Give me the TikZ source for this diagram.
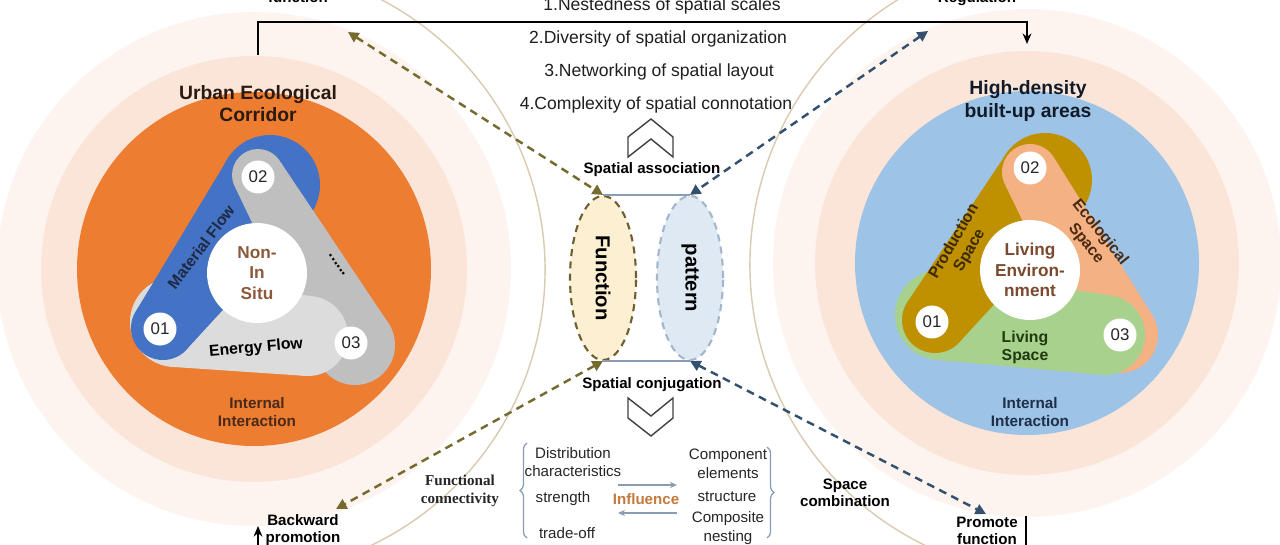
\documentclass[tikz,border=0pt]{standalone}
\usepackage{fontspec}
\setmainfont{Liberation Sans}
\newfontfamily\tnrfont{Liberation Serif}
\usetikzlibrary{calc,arrows.meta,decorations.pathreplacing,shapes.geometric}
\definecolor{haloA}{HTML}{FEF4EF}
\definecolor{haloB}{HTML}{FBE5D9}
\definecolor{orangeC}{HTML}{ED7D31}
\definecolor{blueC}{HTML}{4472C4}
\definecolor{greyC}{HTML}{BFBFBF}
\definecolor{lgreyC}{HTML}{DCDCDC}
\definecolor{skyC}{HTML}{9DC3E6}
\definecolor{goldC}{HTML}{BF9000}
\definecolor{salmonC}{HTML}{F4B183}
\definecolor{greenC}{HTML}{A9D18E}
\definecolor{arcC}{HTML}{DBCAB0}
\definecolor{brownD}{HTML}{766A2E}
\definecolor{blueD}{HTML}{34506E}
\definecolor{fnFill}{HTML}{FCEFD2}
\definecolor{fnLine}{HTML}{6E5E30}
\definecolor{ptFill}{HTML}{DFE9F4}
\definecolor{ptLine}{HTML}{A3B6CC}
\definecolor{thinC}{HTML}{8A9CB2}
\definecolor{inflC}{HTML}{C47A3C}
\definecolor{ttlL}{HTML}{2A1A10}
\definecolor{ttlR}{HTML}{111A28}
\definecolor{iiL}{HTML}{4A2A1A}
\definecolor{iiR}{HTML}{1F2F4A}
\definecolor{ctrL}{HTML}{8B5A3C}
\definecolor{ctrR}{HTML}{7B4A2E}
\definecolor{navyT}{HTML}{1F2A44}
\definecolor{prodT}{HTML}{3D2A00}
\definecolor{ecoT}{HTML}{4A2A10}
\definecolor{livT}{HTML}{1E3A0E}

\newcommand{\capsulebar}[5]{%
  \fill[#1] (#2) circle[radius=#3];
  \fill[#1] (#4) circle[radius=#5];
  \fill[#1] ($(#2)!#3*0.02cm!90:(#4)$) -- ($(#4)!#5*0.02cm!-90:(#2)$) -- ($(#4)!#5*0.02cm!90:(#2)$) -- ($(#2)!#3*0.02cm!-90:(#4)$) -- cycle;}

\tikzset{
  every node/.style={inner sep=0pt, align=center},
  ttl/.style={font=\fontsize{11}{12.6}\selectfont\bfseries},
  ii/.style={font=\fontsize{8.7}{9.8}\selectfont\bfseries},
  b86/.style={font=\fontsize{8.6}{9.8}\selectfont\bfseries},
  reg/.style={font=\fontsize{8.6}{10.5}\selectfont, text=black!85},
  lst/.style={font=\fontsize{10}{12}\selectfont, text=black!88, anchor=base},
  numc/.style={circle, fill=white, minimum size=0.66cm, font=\fontsize{9.6}{10}\selectfont, text=black!85},
  ctrc/.style={circle, fill=white, minimum size=2cm, font=\fontsize{9.8}{11.6}\selectfont\bfseries},
  rotl/.style={font=\fontsize{9}{10.3}\selectfont\bfseries},
  dsh/.style={dash pattern=on 4.5pt off 3.2pt, line width=1.4pt, {Triangle[length=6pt,width=6pt]}-{Triangle[length=6pt,width=6pt]}},
  bigb/.style={font=\fontsize{11.5}{13}\selectfont\bfseries},
  chev/.style={draw=black!75, line width=0.8pt, fill=white, line join=miter},
  thin/.style={draw=thinC, line width=0.7pt},
  bk/.style={line width=1.1pt, black}
}

\begin{document}
\begin{tikzpicture}[x=0.02cm,y=-0.02cm]
\useasboundingbox (0,0) rectangle (1280,544);
\fill[white] (0,0) rectangle (1280,544);

% halos
\fill[haloA] (254,269) circle[radius=257];
\fill[haloB] (254,269) circle[radius=213];
\fill[haloA] (1027,263) circle[radius=254];
\fill[haloB] (1027,263) circle[radius=212];

% thin arcs
\coordinate (arcL) at (240,270);
\coordinate (arcR) at (1062,265);
\draw[arcC, line width=0.8pt] ($(arcL)+(-72:305)$) arc[start angle=-72, end angle=72, radius=305];
\draw[arcC, line width=0.8pt] ($(arcR)+(108:312)$) arc[start angle=108, end angle=252, radius=312];

% main circles
\fill[orangeC] (254,269) circle[radius=177];
\fill[skyC] (1027,263) circle[radius=172];

% ---- left propeller
\coordinate (gA) at (258,175); \coordinate (gB) at (355,345);
\coordinate (lA) at (175,322); \coordinate (lB) at (308,336);
\coordinate (bA) at (163,328); \coordinate (bB) at (270,185);
\capsulebar{greyC}{gA}{26}{gB}{40}
\capsulebar{lgreyC}{lA}{45}{lB}{40}
\capsulebar{blueC}{bA}{32}{bB}{50}
\begin{scope}
  \clip (150,100) rectangle (420,236);
  \capsulebar{greyC}{gA}{26}{gB}{40}
\end{scope}

% ---- right propeller
\coordinate (sA) at (1030,172); \coordinate (sB) at (1120,335);
\coordinate (nA) at (940,315); \coordinate (nB) at (1105,335);
\coordinate (oA) at (935,320); \coordinate (oB) at (1045,180);
\capsulebar{salmonC}{sA}{28}{sB}{38}
\capsulebar{greenC}{nA}{45}{nB}{40}
\capsulebar{goldC}{oA}{33}{oB}{47}
\begin{scope}
  \clip (900,100) rectangle (1180,232);
  \capsulebar{salmonC}{sA}{28}{sB}{38}
\end{scope}

% left texts
\node[ttl, text=ttlL] (Lt) at (258,104) {Urban Ecological\\Corridor};
\node[ctrc, text=ctrL] (Lc) at (257,273) {Non-\\In\\Situ};
\node[numc] (L01) at (160,329) {01};
\node[numc] (L02) at (258,177) {02};
\node[numc] (L03) at (351,343) {03};
\node[rotl, text=navyT, rotate=53] (Lmf) at (201,247) {Material Flow};
\node[rotl, rotate=5] (Lef) at (256,348) {Energy Flow};
\node[rotl, rotate=-55] (Ldots) at (337,265) {......};
\node[ii, text=iiL] (Li) at (257,412) {Internal\\Interaction};

% right texts
\node[ttl, text=ttlR] (Rt) at (1028,101) {High-density\\built-up areas};
\node[ctrc, text=ctrR] (Rc) at (1030,270) {Living\\Environ-\\nment};
\node[numc] (R01) at (932,322) {01};
\node[numc] (R02) at (1030,168) {02};
\node[numc] (R03) at (1120,335) {03};
\node[rotl, text=prodT, rotate=60] (Rps) at (962,246) {Production\\Space};
\node[rotl, text=ecoT, rotate=-51] (Res) at (1093,238) {Ecological\\Space};
\node[rotl, text=livT] (Rls) at (1025,347) {Living\\Space};
\node[ii, text=iiR] (Ri) at (1030,412) {Internal\\Interaction};

% top bracket
\coordinate (tb1) at (258,55); \coordinate (tb2) at (258,22);
\coordinate (tb3) at (1027,22); \coordinate (tb4) at (1027,44);
\draw[bk, -{Stealth[length=6pt,width=5pt]}] (tb1) -- (tb2) -- (tb3) -- (tb4);
\node[b86, anchor=base] (tfun) at (298,3) {function};
\node[b86, anchor=base] (treg) at (977,3) {Regulation};

% list
\node[lst] (l1) at (662,11) {1.Nestedness of spatial scales};
\node[lst] (l2) at (658,44) {2.Diversity of spatial organization};
\node[lst] (l3) at (659,77) {3.Networking of spatial layout};
\node[lst] (l4) at (656,110) {4.Complexity of spatial connotation};

% chevrons
\draw[chev] (628,157) -- (628,137) -- (651,119) -- (673,137) -- (673,157) -- (651,139) -- cycle;
\draw[chev] (628,398) -- (651,416) -- (673,398) -- (673,418) -- (651,436) -- (628,418) -- cycle;

\node[b86] (sa) at (652,170) {Spatial association};
\node[b86] (sc2) at (652,385) {Spatial conjugation};

% ellipses
\node[ellipse, fill=fnFill, draw=fnLine, line width=1.2pt, dash pattern=on 4pt off 3pt, minimum width=1.32cm, minimum height=3.28cm] (F) at (603,278) {};
\node[ellipse, fill=ptFill, draw=ptLine, line width=1.2pt, dash pattern=on 4pt off 3pt, minimum width=1.32cm, minimum height=3.28cm] (P) at (690,278) {};
\node[bigb, rotate=-90] (Ft) at (F.center) {Function};
\node[bigb, rotate=-90] (Pt) at (P.center) {pattern};
\draw[thin] (F.north) -- (P.north);
\draw[thin] (F.south) -- (P.south);

% dashed arrows
\coordinate (da1) at (348,32);
\coordinate (db1) at (928,31);
\coordinate (da2) at (336,509);
\coordinate (db2) at (986,514);
\draw[dsh, brownD] (da1) -- (F.north);
\draw[dsh, blueD] (db1) -- (P.north);
\draw[dsh, brownD] (F.south) -- (da2);
\draw[dsh, blueD] (P.south) -- (db2);

% bottom labels
\node[b86] (bp) at (303,530) {Backward\\promotion};
\node[b86] (pf) at (987,531) {Promote\\function};
\coordinate (bl1) at (258,570); \coordinate (bl2) at (258,526);
\draw[bk, -{Stealth[length=6pt,width=5pt]}] (bl1) -- (bl2);
\coordinate (br1) at (1026,516); \coordinate (br2) at (1026,570);
\draw[bk] (br1) -- (br2);

% bottom block
\node[font=\tnrfont\fontsize{8.6}{10.2}\selectfont\bfseries, text=black!85] (fc) at (460,491) {Functional\\connectivity};
\node[reg] (d1) at (573,462) {Distribution\\characteristics};
\node[reg] (d2) at (563,499) {strength};
\node[reg] (d3) at (567,533) {trade-off};
\node[b86, text=inflC] (inf) at (646,499) {Influence};
\node[reg] (c1) at (728,464) {Component\\elements};
\node[reg] (c2) at (727,497) {structure};
\node[reg] (c3) at (728,528) {Composite\\nesting};
\node[b86] (scb) at (845,493) {Space\\combination};
\coordinate (ar1) at (618,485); \coordinate (ar2) at (677,485);
\coordinate (ar3) at (677,513); \coordinate (ar4) at (618,513);
\draw[thin, -{Stealth[length=4pt,width=3.5pt]}] (ar1) -- (ar2);
\draw[thin, -{Stealth[length=4pt,width=3.5pt]}] (ar3) -- (ar4);
\coordinate (brL1) at (527,538); \coordinate (brL2) at (527,443);
\coordinate (brR1) at (767,447); \coordinate (brR2) at (767,538);
\draw[thin, decorate, decoration={brace, amplitude=4pt}] (brL1) -- (brL2);
\draw[thin, decorate, decoration={brace, amplitude=4pt}] (brR1) -- (brR2);
\end{tikzpicture}
\end{document}
